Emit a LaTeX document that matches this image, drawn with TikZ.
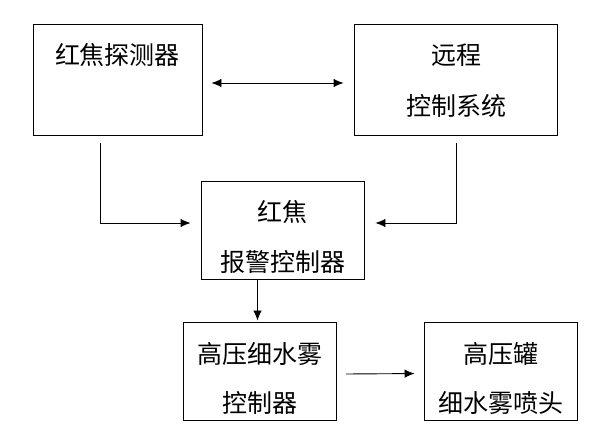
\documentclass[tikz,border=0pt]{standalone}
\usepackage{fontspec}
\newfontfamily\cjk{Noto Sans CJK SC}
\usetikzlibrary{arrows.meta}
\begin{document}
\begin{tikzpicture}[x=1pt,y=-1pt,
  box/.style={draw=black,line width=0.9pt,inner sep=0pt,minimum width=#1},
  txt/.style={font=\cjk\fontsize{25}{29}\selectfont,inner sep=0pt,anchor=center},
  arr/.style={line width=0.9pt,-{Latex[length=10pt,width=8.5pt]}},
  dbl/.style={line width=0.9pt,{Latex[length=10pt,width=8.5pt]}-{Latex[length=10pt,width=8.5pt]}}]
\useasboundingbox[fill=white] (0,0) rectangle (590,443);
\node[box=169pt,minimum height=111pt] (b1) at (117.5,79.5) {};
\node[box=203pt,minimum height=111pt] (b2) at (455.5,79.5) {};
\node[box=163pt,minimum height=98pt] (b3) at (282.5,230) {};
\node[box=153pt,minimum height=98pt] (b4) at (259.5,371) {};
\node[box=153pt,minimum height=98pt] (b5) at (500.5,371) {};
\node[txt] (t1) at (117.5,55) {红焦探测器};
\node[txt] (t2a) at (456,55) {远程};
\node[txt] (t2b) at (456,106) {控制系统};
\node[txt] (t3a) at (282.5,212) {红焦};
\node[txt] (t3b) at (282.5,262) {报警控制器};
\node[txt] (t4a) at (259.5,354) {高压细水雾};
\node[txt] (t4b) at (259.5,403) {控制器};
\node[txt] (t5a) at (500.5,354) {高压罐};
\node[txt] (t5b) at (500.5,403) {细水雾喷头};
\coordinate (s1) at (100.5,143);
\coordinate (s2) at (456.5,143);
\coordinate (s4) at (346,374);
\draw[dbl,shorten <=9pt,shorten >=10pt] ([yshift=-3.5pt]b1.east) -- ([yshift=-3.5pt]b2.west);
\draw[arr,shorten >=10pt] (s1) |- ([yshift=7pt]b3.west);
\draw[arr,shorten >=11pt] (s2) |- ([yshift=7pt]b3.east);
\draw[arr,shorten >=1pt] (b3.south -| 257.5,0) -- (b4.north -| 257.5,0);
\draw[arr,shorten >=9pt] (s4) -- ([yshift=-2.5pt]b5.west);
\end{tikzpicture}
\end{document}
